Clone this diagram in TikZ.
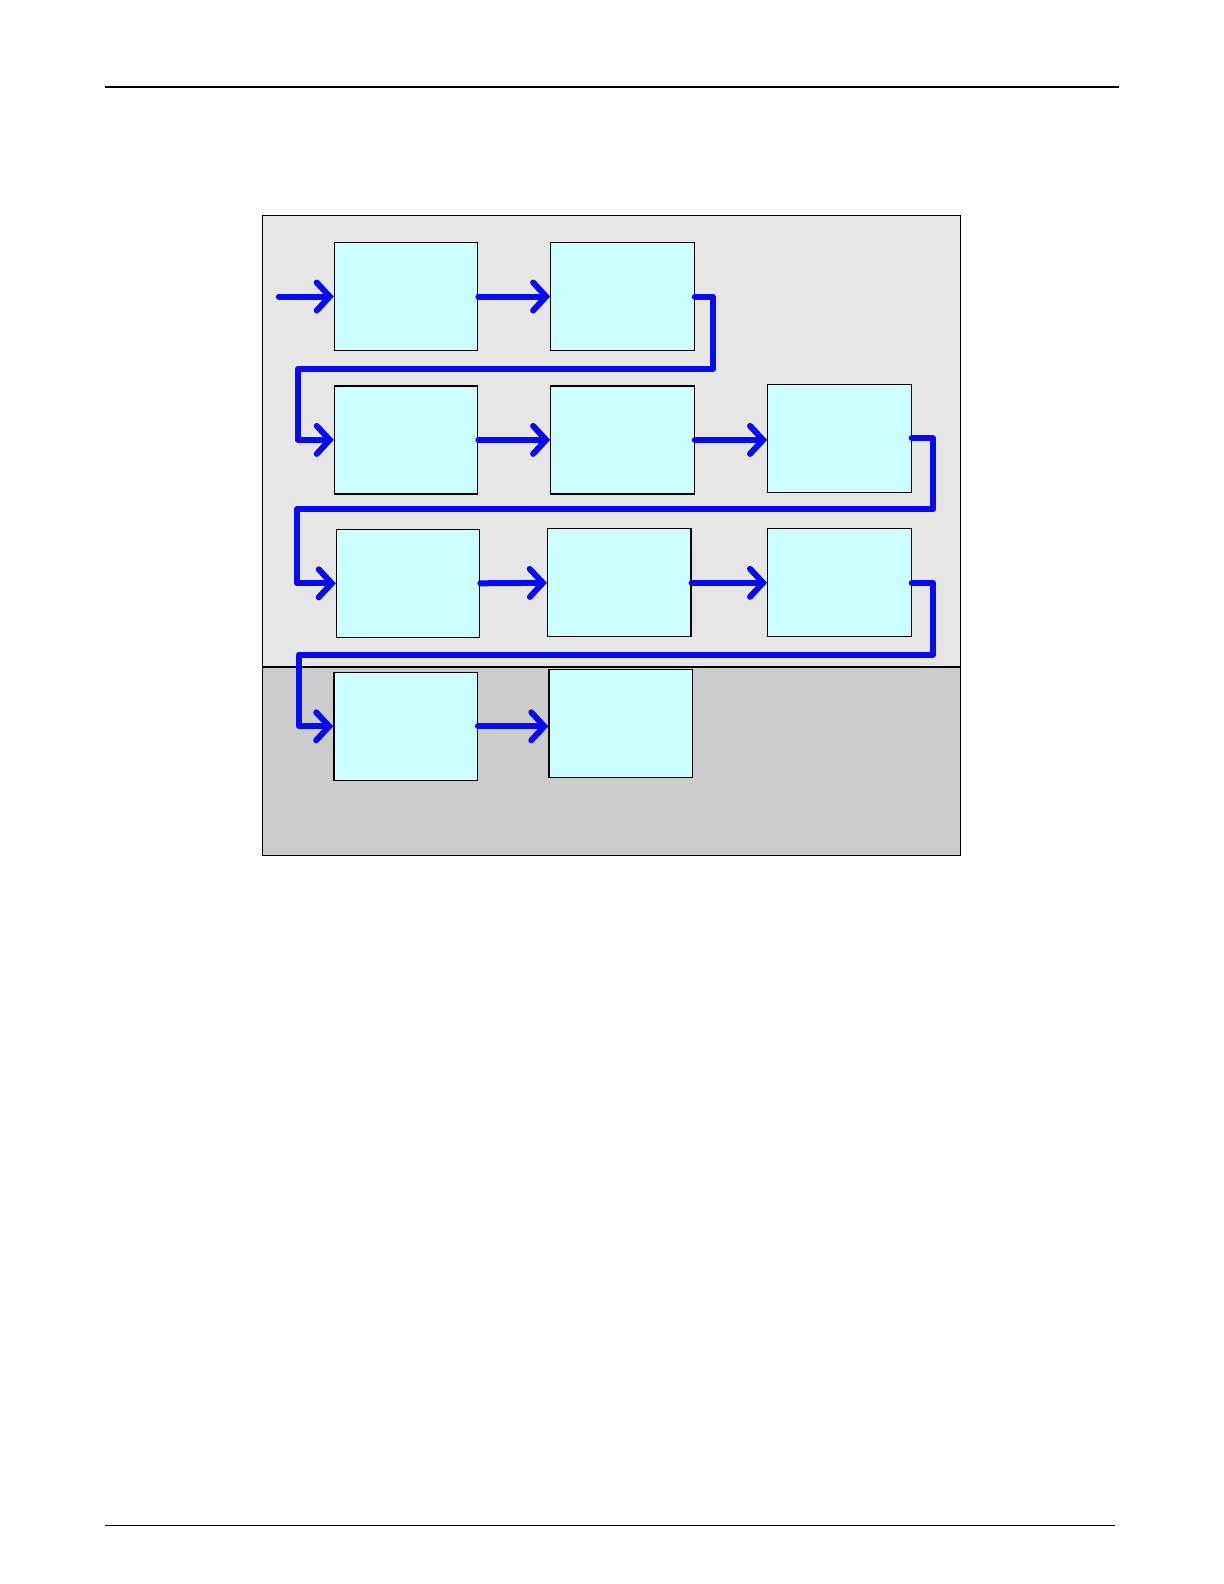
\documentclass[tikz,border=0pt]{standalone}
\usepackage{tikz}
\usetikzlibrary{positioning,arrows.meta}
\definecolor{upperbg}{HTML}{E6E6E6}
\definecolor{lowerbg}{HTML}{CCCCCC}
\definecolor{stagefill}{HTML}{CCFFFF}
\definecolor{flowblue}{HTML}{0A0AF0}
\begin{document}
\begin{tikzpicture}[x=0.5pt,y=-0.5pt,
        stage/.style={draw,line width=0.6pt,fill=stagefill,minimum width=71.7pt,minimum height=54pt,inner sep=0pt},
        flow/.style={draw=flowblue,line width=3pt,line cap=round,line join=round,-{Straight Barb[length=6.5pt,width=14pt,line cap=round]}}]
        \fill[white] (0,0) rectangle (1224,1584);
        % page rules
        \draw[line width=1pt] (105,86.9) -- (1119,86.9);
        \draw[line width=0.5pt] (105,1525) -- (1115,1525);
        % background panels
        \fill[upperbg] (262.6,215.2) rectangle (960.6,666.7);
        \fill[lowerbg] (262.6,666.7) rectangle (960.6,855.6);
        \draw[line width=0.7pt] (262.6,215.2) rectangle (960.6,855.6);
        \draw[line width=1.2pt] (262.6,666.7) -- (960.6,666.7);
        % stages
        \node[stage] (a1) at (406.1,296.5) {};
        \node[stage, right=35.9pt of a1] (a2) {};
        \node[stage] (b1) at (406.1,439.9) {};
        \node[stage, right=35.9pt of b1] (b2) {};
        \node[stage] (b3) at (839.4,438.4) {};
        \node[stage] (c1) at (408.1,583.3) {};
        \node[stage] (c2) at (619.2,582.8) {};
        \node[stage] (c3) at (839.4,582.8) {};
        \node[stage] (d1) at (405.6,726.3) {};
        \node[stage] (d2) at (620.7,723.7) {};
        \coordinate (start) at (278.8,296.5);
        % flow
        \draw[flow] (start) -- (a1.west);
        \draw[flow] (a1.east) -- (a2.west);
        \draw[flow] (a2.east) -- ++(18.3,0) |- (298,368.7) |- (b1.west);
        \draw[flow] (b1.east) -- (b2.west);
        \draw[flow] (b2.east) -- (b3.west |- b2.east);
        \draw[flow] (b3.east) -- ++(21.5,0) |- (297,509.1) |- (c1.west);
        \draw[flow] (c1.east) -- (c2.west);
        \draw[flow] (c2.east) -- (c3.west);
        \draw[flow] (c3.east) -- ++(21.5,0) |- (299,654.5) |- (d1.west);
        \draw[flow] (d1.east) -- (d2.west |- d1.east);
        \pgfresetboundingbox
        \useasboundingbox (0,0) rectangle (1224,1584);
\end{tikzpicture}
\end{document}
